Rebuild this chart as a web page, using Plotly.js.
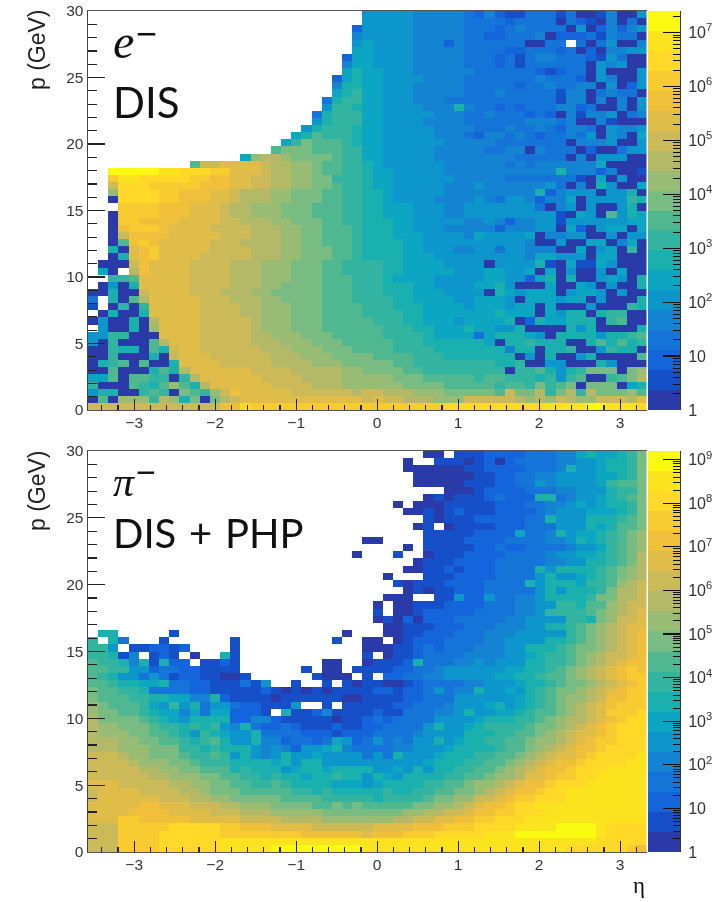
<!DOCTYPE html>
<html><head><meta charset="utf-8">
<script src="https://cdn.plot.ly/plotly-3.0.1.min.js"></script>
<style>html,body{margin:0;padding:0;background:#fff}#plot{width:714px;height:902px;filter:blur(0.45px)}</style>
</head><body><div id="plot"></div>
<script>
// 20 contour colours, lowest to highest
const bandColors=['#2a3aa8','#1650c8','#1464dc','#1474d8','#1484d2','#0c96cc','#0ca5c2','#1ab0ae','#32b4a0','#50b890','#78bc82','#98bc74','#b4b968','#ccb958','#e0bc48','#f0c03a','#f8cc30','#ffd828','#fbe41e','#fafa10'];
// band index per cell (0-9,a-j), '.' = empty; rows run from p=30 down to p=0, columns from low to high eta
const electronBands=[
"........................... 5555544444324211333130014005",
"........................... 5555544444333323333032104030",
"..........................2 5555544444333234333305024245",
"..........................4 5555544444332233340222314330",
"..........................5 65555444243333330033.3035004",
"..........................6 6555544444333322333230204455",
".........................26 6555544444333231344333215300",
".........................46 6555544444333231333333054500",
".........................67 6655544444433333321233050005",
"........................267 6655554444333333343332054005",
"........................477 6655544444333332334334405025",
"........................678 6655544444333433333144034330",
".......................3788 6655544433333333333144040405",
".......................5887 6655554447433232333442300405",
"......................37888 6655555444334333232041445034",
"......................57888 6655554444333333444340041000",
".....................578887 6655555444433343343244305445",
"....................6798887 6655555444324434323343505406",
"...................68a99987 6655555544444333333304445005",
"..................9aaa99988 6655555444443344043330200355",
"...............6bccbaaaa988 6655555444444443333304055500",
"..........9ddeeeedccbba9988 7655555544444434344444460000",
"..jjjjjiihhhggeeedccbba9988 7665555544444444444744424001",
"..giihhhhhggffeeddccbbaa888 7665555554444433333331060500",
"..dhhhgggggfffeeddccbbaa988 7665555544454444445304075006",
"..bhhhhggfffeedcccbbaaa9988 7765555544444444472455505570",
"..0hhhhggfffeedcccbbaaa9988 7765555444454355424460555587",
"...ggggfffeeedccbbbaaa99988 7766655544555555530450500570",
"..0ggggfffeeedccbbbaaa99988 7766655544555555555106509576",
"..0ggffffeeeeddcccbbaaa9988 7776655555445424455155555566",
"..0fgggfeeeeddddcccbbaa9998 7776655544444244455062056606",
"..0dffffeeeeedddcccbbaa9998 7776665555465555604455005055",
"..09fgfeeeeedddccccbbaa9998 7777665555555555400500660460",
"..70efgeeeeeddddcccbbaaa998 7777665554455355444006056080",
"..07efgeeeedddddcccbbaaa998 7777666555555555466555066000",
".000dfeeeeddddcccbbbaaa9988 8877666655550555571061165000",
".60.cfeeeeddddcccbbbaaa9988 8877666665556655606050050600",
"..889eeeeeddddcccbbbaaa9998 8876666555556655267070056507",
".0507eeeeeddddcccbbaaaa9998 8877766555566750006006505007",
"00700deeeedddcccbbaaaaa9998 8877766655550765666056650500",
"3.709ceeeeedddcccbbaaaa9998 8887766665566650666566050007",
"1.0808eeeeeddddccbbbaaa9999 8887776666566656606000500087",
".07007eeeeeddddccbbbaaa9999 8888776666666766606577078800",
"050070ceeeedddddcbbbaaa9999 9888776665666670276677708900",
".50070beeeedddddcbbbaaa9999 9988877666766557000075700007",
"5588000eeeedddddccbbbaaa999 9988887666636777650777757789",
"5080009ceeedddddcccbbbaaa99 9998887777776077877700797978",
"00877097deeddddddcccbbbaaa9 9998888777777747707780058770",
"00800070deeeddddddcccbbbaaa a999988877777770507005700009",
"078909007eeeedddddccccbbbaa aaa998888888877800550007 5000",
"009000797ceeeeeeddddcccccbb aaaa998888888808897578aaa0ab",
"6690998808ceeeeeeddddccccbb bbbaaa99999899888785890089ac",
"80009879b97ceeeeeeddddcccbb bbbbaaaa999998998a89a0aaa067",
"57700898 0a98bdfeeeeeddddddc ddcccbbbaaaaa9daac8ac8caaab9",
"090bbb8cb7a0acdeeeeeeeeeeee deddcccbbbdddddcbcbdcbbdddce",
"dddddddddddddffhggggggggggg gggggggghhhhhhhhhhiiiijjiiih"
];
const pionBands=[
"........................... ......00.11122223334467667 8a",
"........................... ....0..1110120233334455677 8a",
"........................... ....00000011222233347556778a",
"........................... .....000000112233445555667 8a",
"........................... .....000001112233545555689 9a",
"........................... ........0001222233344555788a",
"........................... ......010111232227734556789a",
"........................... ...0.00011111222334456567 78a",
"........................... ....00101211122223455566678a",
"........................... ......1011122222337555777 89a",
"........................... .....01.011112223335557679 9a",
"........................... ......11111222263347566789ab",
"........................... 00....111122223333445767 89ab",
"........................... ....0.1111122322333345568 9ab",
"..........................0 ...1..011122223333455667 89ac",
"........................... .....011122223333344557789ac",
"........................... ....00112122233337577778 9abc",
"........................... ..0...1112222333357556789abc",
"........................... ...1011122223333757776889bcd",
"........................... ....01011222333335757778accd",
"........................... ..000..11522533445777 78aaccd",
"........................... .0.001112222333445588799bcdd",
"........................... .1.00122222333344588889abcde",
"........................... .0102022233333445555887abdde",
"........................... ..00111222333444557789abcdee",
".77.....1................0. ..00112223334445555589abcdef",
"8.73...1......1.........1.. 00.0122233334455557789abcdef",
"885.112212....1............ 0001123233344455777 89aabcdef",
"88714.121.0..71............ 1.01123333444455678 89abcddef",
"9887471722.1121........00.. 01112733344545557788 9abcdeff",
"998855233221111......1.00.1 11122334555555667789abcdefgf",
"9875535312211001......1000. 1.22334455555667789 9abcdefgg",
"998776673322111315..1..1.10 11001233334455567789aabcdefg",
"a99887333322111112101010111 1221223534475565789aabcdefgg",
"a99988776644721111011111100 1111223335555556789abbcdffgg",
"ba9998658573553221115..1.11 1112233345556756789abcdefggg",
"baa998766463662221.71124111 1211333445755667899abcdegggh",
"caaaa9876577772244211111011 2323333555567778 89abccdefghh",
"cbbaaa988787854732232111211 223333575567888 89aabcdefghhh",
"cbbbaa998758765573333222122 233334555577788 99abcdeefghhh",
"cccbbaa99878975574423323652 3534355756778899abbcdefgghhh",
"cccbbbaaa887877754542556743 33344555677778 99abcdeffghhhh",
"dddcbbaaa988985754575565555 35375556777889 9abcdeefghhhhi",
"ddddcbbbaa98887777675775555 555555677788 99abcdeffghhhhii",
"dddddccbbaa9997877756776777 7556575778899abcdeffghhhiiii",
"ddddddccbbbaa99887877677877 57657777 8899abbceefgghhiiiii",
"eeedddddccbbaa9988987777666 567777889 9abbcdeffghhhiiiiii",
"deeeeddddccbaaa999998878777 778778899aabcdeffghhiiiiiiii",
"deeeeeedddccbbaaaaa99998888 87888 89aabbddefgghhhiiiiiiii",
"eeeeeffeeedddccbbbaaaa99a9a 99999aabbcdeffghhiiiiiiiiiii",
"eeeeffffeeeedddcccbbbbbaaaa aaaabbccddeffgghhhiiiiiiiiii",
"eeeggfffffeeeeeddddccccbbbb bbbccddeeffgghhhiiiiiiiiiiii",
"dddggggghhhhhggfffeeeeddddd deeeefffggghhhhiiiijjjjihhhh",
"dddgggghhhhhhggggggggffffff efffggghhhhhiiijjjjjjjjihhhh",
"dddgggghhhhhhiiiiiiiiiiiiii iiiiiiiiiiiiiiiiiiiiiiihhhhh",
"dddgggghhhhhhiiiiijjjjjjjjj iiiiiiiiiiiiiiiiiiiihhhhhhgf"
];
const etaTicks=[-3,-2,-1,0,1,2,3];
const etaMinorTicks=[-3.4,-3.2,-2.8,-2.6,-2.4,-2.2,-1.8,-1.6,-1.4,-1.2,-0.8,-0.6,-0.4,-0.2,0.2,0.4,0.6,0.8,1.2,1.4,1.6,1.8,2.2,2.4,2.6,2.8,3.2];
const pTicks=[0,5,10,15,20,25,30];
const pMinorTicks=[1,2,3,4,6,7,8,9,11,12,13,14,16,17,18,19,21,22,23,24,26,27,28,29];
const etaRange=[-3.57,3.325];
const pRange=[0,30];
const electronDecades=7.4, pionDecades=9.2;

const W=714,H=902;
const fx=p=>p/W, fy=p=>1-p/H;
const nx=55, ny=electronBands.length;
const xEdges=Array.from({length:nx+1},(_,i)=>etaRange[0]+(etaRange[1]-etaRange[0])*i/nx);
const yEdges=Array.from({length:ny+1},(_,i)=>pRange[0]+(pRange[1]-pRange[0])*i/ny);
const colorscale=[];
bandColors.forEach((c,k)=>{colorscale.push([k/20,c]);colorscale.push([(k+1)/20,c]);});
function toZ(rows,dec){
  return rows.slice().reverse().map(r=>{
    const s=r.replace(/ /g,'');const out=[];
    for(let i=0;i<nx;i++){const ch=s[i];
      if(ch===undefined||ch==='.'){out.push(null);continue;}
      out.push((parseInt(ch,20)+0.5)*dec/20);}
    return out;});
}
function hist(rows,dec,xa,ya){return {type:'heatmap',x:xEdges,y:yEdges,z:toZ(rows,dec),zmin:0,zmax:dec,colorscale,showscale:false,xaxis:xa,yaxis:ya,hoverongaps:false};}
function bar(dec,xa,ya){
  const ye=Array.from({length:21},(_,i)=>i*dec/20);
  const z=bandColors.map((_,k)=>[(k+0.5)*dec/20]);
  return {type:'heatmap',x:[0,1],y:ye,z,zmin:0,zmax:dec,colorscale,showscale:false,xaxis:xa,yaxis:ya};
}
const tickFont={family:'Liberation Sans, Arial, sans-serif',size:15.5,color:'#333'};
function xAxis(anchor){return {anchor,domain:[fx(88),fx(646.5)],range:etaRange,tickmode:'array',tickvals:etaTicks,ticks:'inside',ticklen:11,tickwidth:1.2,tickcolor:'#222',tickfont:tickFont,ticklabelstandoff:-2,showgrid:false,zeroline:false,showline:true,mirror:true,linecolor:'#555',linewidth:1,minor:{tickmode:'array',tickvals:etaMinorTicks,ticks:'inside',ticklen:5.5,tickwidth:1.2,tickcolor:'#222',showgrid:false}};}
function yAxis(anchor,t,b){return {anchor,domain:[fy(b),fy(t)],range:pRange,tickmode:'array',tickvals:pTicks,ticks:'inside',ticklen:17,tickwidth:1.2,tickcolor:'#222',tickfont:tickFont,showgrid:false,zeroline:false,showline:true,linecolor:'#444',linewidth:1.5,minor:{tickmode:'array',tickvals:pMinorTicks,ticks:'inside',ticklen:8.5,tickwidth:1.2,tickcolor:'#222',showgrid:false}};}
function cbX(anchor){return {anchor,domain:[fx(648),fx(680)],range:[0,1],showticklabels:false,ticks:'',showgrid:false,zeroline:false};}
function cbY(anchor,t,b,dec){
  const maj=[],txt=[],min=[];
  for(let n=0;n<=Math.floor(dec);n++){maj.push(n);txt.push(n===0?'1':n===1?'10':'10<sup>'+n+'</sup>');
    for(let m=2;m<10;m++){const v=n+Math.log10(m);if(v<dec)min.push(v);}}
  return {anchor,side:'right',domain:[fy(b),fy(t)],range:[0,dec],tickmode:'array',tickvals:maj,ticktext:txt,ticks:'inside',ticklen:17,tickwidth:1.2,tickcolor:'#111',tickfont:{family:'Liberation Sans, Arial, sans-serif',size:16,color:'#333'},ticklabelstandoff:4,showgrid:false,zeroline:false,showline:true,linecolor:'#333',linewidth:1,minor:{tickmode:'array',tickvals:min,ticks:'inside',ticklen:7,tickwidth:1,tickcolor:'#111',showgrid:false}};
}
function note(text,px,py,size,family,extra){return Object.assign({text,xref:'paper',yref:'paper',x:fx(px),y:fy(py),xanchor:'left',yanchor:'middle',showarrow:false,font:{family,size,color:'#111'}},extra||{});}
const serif='Liberation Serif, serif', sans='Lato, sans-serif', arial='Liberation Sans, Arial, sans-serif';
const annotations=[
  note('<i>e</i>',111,42,48,serif),
  note('−',134,33,36,arial),
  note('DIS',111,102,42,sans),
  note('<i>π</i>',111,482,42,serif),
  note('−',134,472,34,arial),
  note('DIS \u200a+\u200a PHP',111,533,40,sans),
  note('p (GeV)',37,50,23,arial,{textangle:-90,xanchor:'center',font:{family:arial,size:23,color:'#222'}}),
  note('p (GeV)',37,491,23,arial,{textangle:-90,xanchor:'center',font:{family:arial,size:23,color:'#222'}}),
  note('η',631,885,23,serif)
];
const data=[hist(electronBands,electronDecades,'x','y'),bar(electronDecades,'x3','y3'),hist(pionBands,pionDecades,'x2','y2'),bar(pionDecades,'x4','y4')];
const layout={width:W,height:H,margin:{l:0,r:0,t:0,b:0},paper_bgcolor:'#fff',plot_bgcolor:'#fff',showlegend:false,annotations,
  xaxis:xAxis('y'),yaxis:yAxis('x',11,410),
  xaxis2:xAxis('y2'),yaxis2:yAxis('x2',451,852),
  xaxis3:cbX('y3'),yaxis3:cbY('x3',11,410,electronDecades),
  xaxis4:cbX('y4'),yaxis4:cbY('x4',451,852,pionDecades)};
Plotly.newPlot('plot',data,layout,{displayModeBar:false,staticPlot:true});
</script></body></html>
